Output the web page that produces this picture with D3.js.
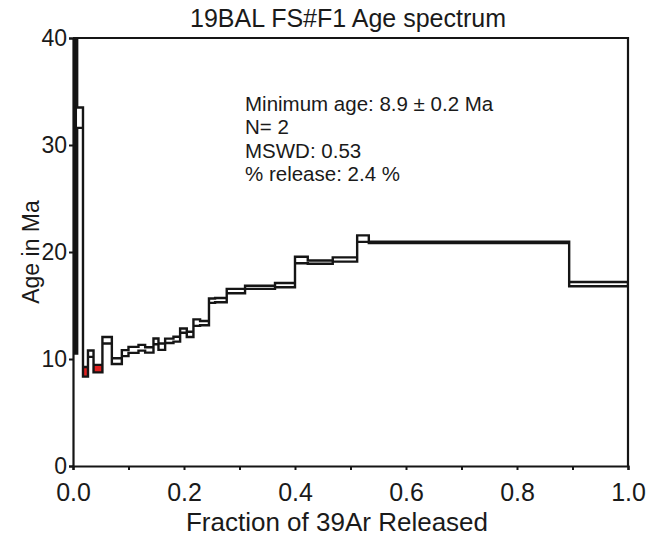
<!DOCTYPE html>
<html>
<head>
<meta charset="utf-8">
<script src="https://cdn.jsdelivr.net/npm/d3@7"></script>
<style>
  html, body { margin: 0; padding: 0; background: #fff; }
  svg { display: block; font-family: Arial, "Liberation Sans", sans-serif; }
</style>
</head>
<body>
<script>
// ---- Data: cumulative 39Ar fraction at the end of each step, plateau age and 2σ error (Ma)
const stepEnds = [0.0075, 0.018, 0.027, 0.037, 0.053, 0.070, 0.088, 0.100, 0.118, 0.130,
                  0.145, 0.154, 0.166, 0.181, 0.193, 0.205, 0.217, 0.229, 0.245, 0.256,
                  0.277, 0.310, 0.364, 0.400, 0.423, 0.468, 0.512, 0.533, 0.894, 1.000];
const stepAges = [30.0, 32.55, 8.8, 10.5, 9.1, 11.75, 9.8, 10.55, 10.85, 11.05,
                  10.85, 11.65, 11.15, 11.7, 11.85, 12.65, 12.3, 13.4, 13.35, 15.45,
                  15.5, 16.35, 16.7, 16.9, 19.25, 19.05, 19.3, 21.25, 20.9, 17.0];
const stepErrs = [19.5, 0.95, 0.45, 0.3, 0.35, 0.3, 0.27, 0.28, 0.28, 0.27,
                  0.25, 0.27, 0.3, 0.2, 0.23, 0.2, 0.25, 0.3, 0.2, 0.2,
                  0.2, 0.2, 0.15, 0.2, 0.3, 0.15, 0.2, 0.3, 0.06, 0.2];
const minAgeSteps = [2, 4];           // steps used for the minimum age (red)
const xTicks = [0, 0.1, 0.2, 0.3, 0.4, 0.5, 0.6, 0.7, 0.8, 0.9, 1.0];
const xTickLabels = [0, 0.2, 0.4, 0.6, 0.8, 1.0];
const yTicks = [0, 10, 20, 30, 40];
const titleText = "19BAL FS#F1 Age spectrum";
const xTitle = "Fraction of 39Ar Released";
const yTitle = "Age in Ma";
const annotation = ["Minimum age: 8.9 \u00B1 0.2 Ma", "N= 2", "MSWD: 0.53", "% release: 2.4 %"];

// ---- Layout
const W = 647, H = 539;
const margin = {left: 73, right: 19, top: 38, bottom: 73};
const iw = W - margin.left - margin.right;
const ih = H - margin.top - margin.bottom;
const FONT = "Arial, 'Liberation Sans', sans-serif";
const INK = "#1a1a1a";

const svg = d3.select("body").append("svg").attr("width", W).attr("height", H);
const x = d3.scaleLinear().domain([0, 1]).range([margin.left, margin.left + iw]);
const y = d3.scaleLinear().domain([0, 40]).range([margin.top + ih, margin.top]);

svg.append("defs").append("clipPath").attr("id", "plotclip")
  .append("rect").attr("x", margin.left).attr("y", margin.top).attr("width", iw).attr("height", ih);

const steps = stepEnds.map((e, i) => ({
  x0: i === 0 ? 0 : stepEnds[i - 1], x1: e,
  hi: stepAges[i] + stepErrs[i], lo: stepAges[i] - stepErrs[i], i
}));
const minSet = new Set(minAgeSteps);

const g = svg.append("g").attr("clip-path", "url(#plotclip)");

// fills of each step box
g.selectAll("rect.step").data(steps).join("rect")
  .attr("class", "step")
  .attr("x", d => x(d.x0)).attr("width", d => x(d.x1) - x(d.x0))
  .attr("y", d => y(d.hi)).attr("height", d => y(d.lo) - y(d.hi))
  .attr("fill", d => d.i === 0 ? "#141414" : (minSet.has(d.i) ? "#e02020" : "#fff"));

// envelope outline (upper and lower step lines, closed)
const upper = [], lower = [];
steps.forEach(d => { upper.push([d.x0, d.hi], [d.x1, d.hi]); lower.push([d.x0, d.lo], [d.x1, d.lo]); });
const outline = upper.concat(lower.slice().reverse());
const line = d3.line().x(d => x(d[0])).y(d => y(d[1]));
g.append("path").attr("d", line(outline) + "Z")
  .attr("fill", "none").attr("stroke", "#151515").attr("stroke-width", 2.4)
  .attr("stroke-linejoin", "miter");

// ---- Axes
const xAxis = d3.axisBottom(x).tickValues(xTicks).tickSize(4).tickPadding(13)
  .tickFormat(d => xTickLabels.some(v => Math.abs(v - d) < 1e-9) ? d3.format(".1f")(d) : "");
const gx = svg.append("g").attr("transform", `translate(0,${margin.top + ih})`).call(xAxis);
gx.select(".domain").attr("stroke", "#151515").attr("stroke-width", 2.2);
gx.selectAll(".tick line").attr("stroke", "#151515").attr("stroke-width", 2);
gx.selectAll("text").attr("font-size", 25).attr("fill", INK).attr("font-family", FONT);

const yAxis = d3.axisLeft(y).tickValues(yTicks).tickSize(4).tickPadding(2).tickFormat(d3.format("d"));
const gy = svg.append("g").attr("transform", `translate(${margin.left},0)`).call(yAxis);
gy.select(".domain").attr("stroke", "#151515").attr("stroke-width", 2.2);
gy.selectAll(".tick line").attr("stroke", "#151515").attr("stroke-width", 2);
gy.selectAll("text").attr("font-size", 23).attr("fill", INK).attr("font-family", FONT);

// frame top and right
svg.append("path")
  .attr("d", `M${x(0)},${y(40)}H${x(1)}V${y(0)}`)
  .attr("fill", "none").attr("stroke", "#151515").attr("stroke-width", 2.2);

// ---- Titles
svg.append("text").attr("x", 348).attr("y", 27).attr("text-anchor", "middle")
  .attr("font-size", 25).attr("fill", INK).text(titleText);
svg.append("text").attr("x", 337).attr("y", 531).attr("text-anchor", "middle")
  .attr("font-size", 26).attr("fill", INK).text(xTitle);
svg.append("text").attr("transform", `translate(39,${y(20)}) rotate(-90)`).attr("text-anchor", "middle")
  .attr("font-size", 23).attr("fill", INK).text(yTitle);

// ---- Annotation
svg.append("g").selectAll("text").data(annotation).join("text")
  .attr("x", 245).attr("y", (d, i) => 111 + i * 23.4)
  .attr("font-size", 20.5).attr("fill", INK).text(d => d);
</script>
</body>
</html>
